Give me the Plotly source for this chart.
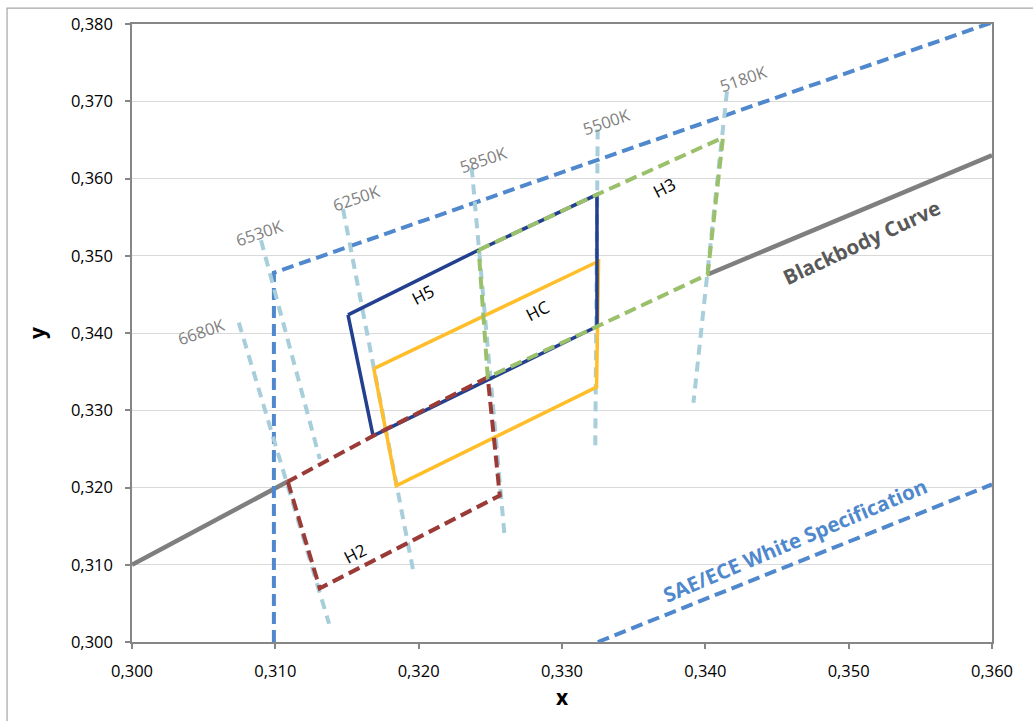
import plotly.graph_objects as go

# ---------------- data (CIE x, y) ----------------
bb_x = [0.300, 0.3109, None, 0.3402, 0.360]
bb_y = [0.310, 0.3208, None, 0.3476, 0.3630]

sae_x = [0.3099, 0.3099, 0.360, None, 0.3325, 0.360]
sae_y = [0.300, 0.3478, 0.3802, None, 0.300, 0.3204]

iso_names = ["6680K", "6530K", "6250K", "5850K", "5500K", "5180K"]
iso_x0 = [0.30745, 0.3090, 0.31472, 0.32370, 0.33249, 0.34151]
iso_y0 = [0.34135, 0.3520, 0.35606, 0.36143, 0.36636, 0.3713]
iso_x1 = [0.31375, 0.3131, 0.31961, 0.32601, 0.33232, 0.33917]
iso_y1 = [0.30236, 0.3237, 0.30931, 0.31338, 0.32497, 0.33097]
iso_lbl_x = [0.30484, 0.30891, 0.31568, 0.32449, 0.33311, 0.34264]
iso_lbl_y = [0.34019, 0.35306, 0.35757, 0.36250, 0.36744, 0.37301]

h5_x = [0.31507, 0.31682, 0.33244, 0.33244, 0.32419, 0.31507]
h5_y = [0.34234, 0.32668, 0.34084, 0.35792, 0.35075, 0.34234]

hc_x = [0.31687, 0.31845, 0.33241, 0.33255, 0.31687]
hc_y = [0.33539, 0.32024, 0.33299, 0.34929, 0.33539]

h2_x = [0.31087, 0.3131, 0.32566, 0.32482, 0.31682, 0.31087]
h2_y = [0.32076, 0.30695, 0.31896, 0.33427, 0.32668, 0.32076]

h3_x = [0.32419, 0.33244, 0.34123, 0.34016, 0.33244, 0.32482, 0.32419]
h3_y = [0.35075, 0.35792, 0.36529, 0.34757, 0.34084, 0.33427, 0.35075]

bin_names = ["H5", "HC", "H3", "H2"]
bin_lbl_x = [0.32031, 0.32833, 0.33714, 0.31554]
bin_lbl_y = [0.34492, 0.34286, 0.35885, 0.31145]

x_ticks = [0.300, 0.310, 0.320, 0.330, 0.340, 0.350, 0.360]
y_ticks = [0.300, 0.310, 0.320, 0.330, 0.340, 0.350, 0.360, 0.370, 0.380]

# ---------------- styles ----------------
C_BB = "#7F7F7F"
C_SAE = "#4F88CC"
C_ISO = "#A7CEDA"
C_H5 = "#22408F"
C_HC = "#FFBE2A"
C_H2 = "#9B3B38"
C_H3 = "#9BC06B"
FONT = "Open Sans"

fig = go.Figure()

fig.add_trace(go.Scatter(x=bb_x, y=bb_y, mode="lines",
                         line=dict(color=C_BB, width=4.5), hoverinfo="skip"))
fig.add_trace(go.Scatter(x=sae_x, y=sae_y, mode="lines",
                         line=dict(color=C_SAE, width=4, dash="12px,6px"), hoverinfo="skip"))
for i in range(len(iso_names)):
    fig.add_trace(go.Scatter(x=[iso_x0[i], iso_x1[i]], y=[iso_y0[i], iso_y1[i]], mode="lines",
                             line=dict(color=C_ISO, width=4, dash="10px,7px"), hoverinfo="skip"))
fig.add_trace(go.Scatter(x=hc_x, y=hc_y, mode="lines",
                         line=dict(color=C_HC, width=3.5), hoverinfo="skip"))
fig.add_trace(go.Scatter(x=h5_x, y=h5_y, mode="lines",
                         line=dict(color=C_H5, width=3.5), hoverinfo="skip"))
fig.add_trace(go.Scatter(x=h2_x, y=h2_y, mode="lines",
                         line=dict(color=C_H2, width=4, dash="12px,6px"), hoverinfo="skip"))
fig.add_trace(go.Scatter(x=h3_x, y=h3_y, mode="lines",
                         line=dict(color=C_H3, width=4, dash="12px,6px"), hoverinfo="skip"))

annotations = []
for i, name in enumerate(iso_names):
    annotations.append(dict(x=iso_lbl_x[i], y=iso_lbl_y[i], text=name, showarrow=False,
                            textangle=-19, font=dict(family=FONT, size=16.5, color="#808080")))
for i, name in enumerate(bin_names):
    annotations.append(dict(x=bin_lbl_x[i], y=bin_lbl_y[i], text=name, showarrow=False,
                            textangle=-27, font=dict(family=FONT, size=17, color="#000000")))
annotations.append(dict(x=0.35090, y=0.35178, text="<b>Blackbody Curve</b>", showarrow=False,
                        textangle=-25, font=dict(family=FONT, size=20.5, color="#595959")))
annotations.append(dict(x=0.34627, y=0.31317, text="<b>SAE/ECE White Specification</b>", showarrow=False,
                        textangle=-23, font=dict(family=FONT, size=20.5, color=C_SAE)))

fig.update_layout(
    width=1033, height=721,
    margin=dict(l=132, r=41, t=21, b=79),
    paper_bgcolor="white", plot_bgcolor="white",
    showlegend=False,
    separators=", ",
    font=dict(family=FONT, size=16.5, color="#000000"),
    annotations=annotations,
    shapes=[dict(type="rect", xref="paper", yref="paper",
                 x0=-0.1453, x1=1.2, y0=-0.3, y1=1.0258,
                 line=dict(color="#A6A6A6", width=1.2), layer="below")],
)
fig.update_xaxes(
    range=[0.300, 0.360], tickvals=x_ticks, tickformat=".3f",
    showgrid=False, zeroline=False,
    showline=True, linecolor="#868686", linewidth=1.5, mirror=True,
    ticks="outside", ticklen=5, tickcolor="#868686", tickwidth=1.5,
    ticklabelstandoff=8,
    title=dict(text="<b>x</b>", font=dict(family=FONT, size=21), standoff=10),
)
fig.update_yaxes(
    range=[0.300, 0.380], tickvals=y_ticks, tickformat=".3f",
    showgrid=True, gridcolor="#D9D9D9", gridwidth=1.2, zeroline=False,
    showline=True, linecolor="#868686", linewidth=1.5, mirror=True,
    ticks="outside", ticklen=5, tickcolor="#868686", tickwidth=1.5,
    ticklabelstandoff=9,
    title=dict(text="<b>y</b>", font=dict(family=FONT, size=21), standoff=20),
)

fig.write_html("out.html", config={"displayModeBar": False},
               post_script="document.body.style.margin='0px';document.body.style.overflow='hidden';")
